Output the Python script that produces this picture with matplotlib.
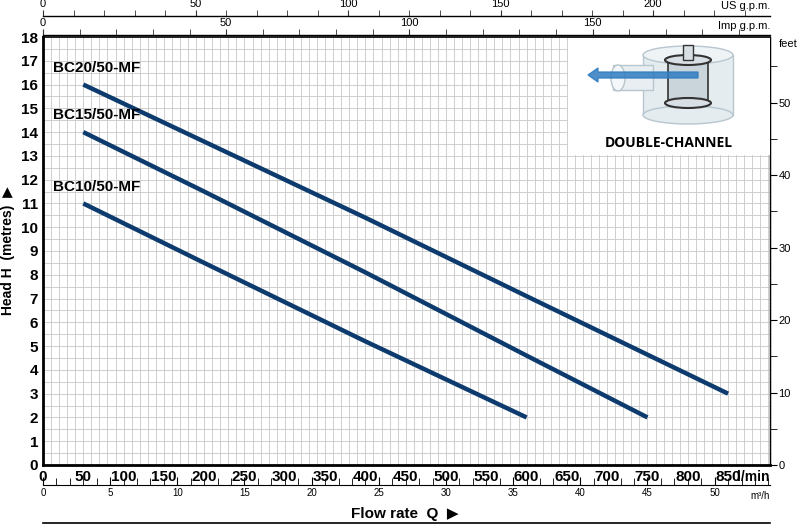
import numpy as np
import matplotlib
matplotlib.use("Agg")
import matplotlib.pyplot as plt
from matplotlib.patches import Rectangle, Ellipse, FancyArrow

plt.rcParams['font.family'] = ['Liberation Sans Narrow', 'Liberation Sans', 'DejaVu Sans']

# curves (Q in l/min, H in m)
bc20_q = [50, 200, 400, 600, 850]
bc20_h = [16.0, 13.6, 10.4, 7.1, 3.0]
bc15_q = [50, 200, 400, 600, 750]
bc15_h = [14.0, 11.5, 8.1, 4.6, 2.0]
bc10_q = [50, 200, 400, 600]
bc10_h = [11.0, 8.5, 5.2, 2.0]
labels = ["BC20/50-MF", "BC15/50-MF", "BC10/50-MF"]
label_h = [16.7, 14.7, 11.7]

line_col = "#0d3b6e"

fig = plt.figure(figsize=(8.09, 5.27), dpi=100)
ax = fig.add_axes([43 / 809, 62 / 527, 727 / 809, 428 / 527])

ax.set_xlim(0, 902)
ax.set_ylim(0, 18)
ax.set_xticks(np.arange(0, 900, 50))
ax.set_xticks(np.arange(0, 901, 10), minor=True)
ax.set_yticks(np.arange(0, 19, 1))
ax.set_yticks(np.arange(0, 18.01, 0.5), minor=True)
ax.grid(which="both", color="#c8c8c8", lw=0.6)
ax.set_axisbelow(True)
ax.tick_params(which="both", length=0)
ax.tick_params(axis="both", labelsize=11)
for t in ax.get_xticklabels() + ax.get_yticklabels():
    t.set_fontweight("bold")
for s in ax.spines.values():
    s.set_color("black")
ax.spines["bottom"].set_linewidth(2)
ax.spines["left"].set_linewidth(2)
ax.spines["top"].set_linewidth(1.2)
ax.spines["right"].set_linewidth(1)
ax.text(1.0, -0.012, "l/min", transform=ax.transAxes, ha="right", va="top",
        fontsize=10, fontweight="bold")

for q, h in [(bc20_q, bc20_h), (bc15_q, bc15_h), (bc10_q, bc10_h)]:
    ax.plot(q, h, color=line_col, lw=3.2, solid_capstyle="butt")
for lab, y in zip(labels, label_h):
    ax.text(12, y, lab, fontsize=11, fontweight="bold", va="center")

ax.set_ylabel("Head H  (metres)  \u25b6", fontsize=10, fontweight="bold")
ax.yaxis.set_label_coords(-0.038, 0.5)

# secondary scales
us = ax.secondary_xaxis(1.049, functions=(lambda q: q * 0.2642, lambda g: g / 0.2642))
us.set_xticks(np.arange(0, 240, 50))
us.set_xticks(np.arange(0, 240, 10), minor=True)
imp = ax.secondary_xaxis(1.004, functions=(lambda q: q * 0.22, lambda g: g / 0.22))
imp.set_xticks(np.arange(0, 200, 50))
imp.set_xticks(np.arange(0, 200, 10), minor=True)
m3h = ax.secondary_xaxis(-0.047, functions=(lambda q: q * 0.06, lambda m: m / 0.06))
m3h.set_xticks(np.arange(0, 55, 5))
m3h.set_xticks(np.arange(0, 55, 1), minor=True)
for sx in [us, imp]:
    sx.tick_params(which="major", direction="out", length=4, labelsize=8, pad=1, color="#333")
    sx.tick_params(which="minor", direction="out", length=4, color="#333")
    sx.spines["top"].set_linewidth(1)
m3h.tick_params(which="major", direction="in", length=6, labelsize=7, pad=2)
m3h.tick_params(which="minor", direction="in", length=5)
ax.text(1.0, 1.06, "US g.p.m.", transform=ax.transAxes, ha="right", va="bottom", fontsize=8)
ax.text(1.0, 1.015, "Imp g.p.m.", transform=ax.transAxes, ha="right", va="bottom", fontsize=8)
ax.text(1.0, -0.06, "m\u00b3/h", transform=ax.transAxes, ha="right", va="top", fontsize=7)

ft = ax.secondary_yaxis(1.0, functions=(lambda h: h * 3.281, lambda f: f / 3.281))
ft.set_yticks(np.arange(0, 60, 10))
ft.set_yticks(np.arange(0, 60, 5), minor=True)
ft.tick_params(which="both", direction="out", length=5, labelsize=8, pad=1)
ax.text(1.012, 0.995, "feet", transform=ax.transAxes, ha="left", va="top", fontsize=8)

fig.text(0.5, 0.018, "Flow rate  Q  \u25b6", ha="center", fontsize=11, fontweight="bold")
fig.add_artist(plt.Line2D([43 / 809, 770 / 809], [0.008, 0.008], color="black", lw=1.2))

# inset illustration
ins = fig.add_axes([568 / 809, 372 / 527, 202 / 809, 117 / 527])
ins.set_xlim(0, 202)
ins.set_ylim(0, 117)
ins.set_xticks([])
ins.set_yticks([])
for s in ins.spines.values():
    s.set_visible(False)
ins.add_patch(Rectangle((0, 0), 202, 117, color="white"))
ins.add_patch(Rectangle((75, 40), 90, 60, color="#e4ecf0", ec="#b8c6ce"))
ins.add_patch(Ellipse((120, 100), 90, 18, color="#eef3f6", ec="#b8c6ce"))
ins.add_patch(Ellipse((120, 40), 90, 18, color="#e4ecf0", ec="#b8c6ce"))
ins.add_patch(Rectangle((45, 65), 40, 25, color="#e8eef2", ec="#b8c6ce"))
ins.add_patch(Ellipse((50, 77), 14, 26, color="#f4f7f9", ec="#b8c6ce"))
ins.add_patch(Rectangle((100, 50), 40, 45, color="#c9d4db", ec="#333", lw=1.2))
ins.add_patch(Ellipse((120, 95), 46, 10, color="#d8e0e6", ec="#333", lw=1.5))
ins.add_patch(Ellipse((120, 52), 46, 10, color="#d8e0e6", ec="#333", lw=1.5))
ins.add_patch(Rectangle((115, 95), 10, 15, color="#d8e0e6", ec="#333", lw=1))
ins.add_patch(FancyArrow(130, 80, -100, 0, width=6, head_width=14, head_length=10,
                         color="#2f7cc0", alpha=0.85))
ins.text(101, 12, "DOUBLE-CHANNEL", ha="center", va="center", fontsize=10, fontweight="bold",
         family=["Open Sans", "DejaVu Sans"])

fig.savefig("out.png", dpi=100)
